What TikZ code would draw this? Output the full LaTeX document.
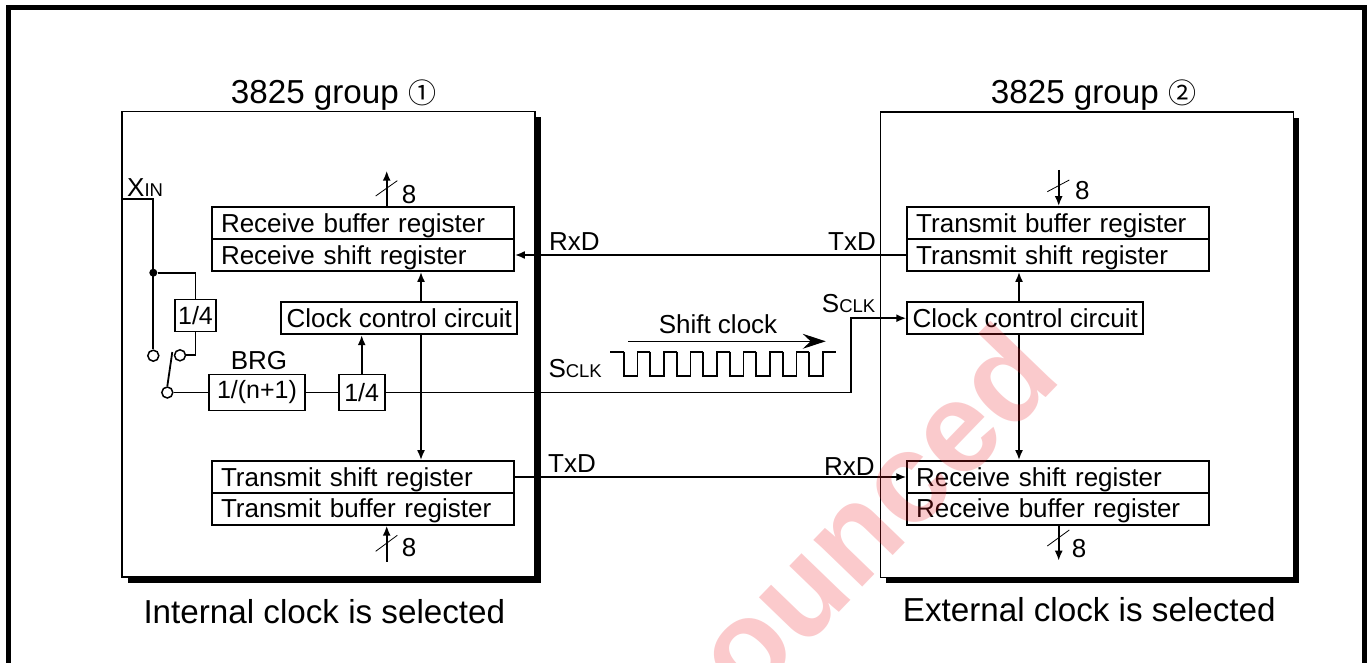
\documentclass[tikz,border=0pt]{standalone}
\definecolor{rougemark}{RGB}{237,28,36}
\usepackage{fontspec}
\setmainfont{Liberation Sans}
\newfontfamily\circlefont{Noto Sans CJK JP}
\usepackage{tikz}
\usetikzlibrary{arrows.meta,positioning,shadows}
\newcommand{\smalltext}{\fontsize{26}{30}\selectfont}
\newcommand{\bigtext}{\fontsize{33.2}{38}\selectfont}
\newcommand{\subtext}{\fontsize{18.5}{21}\selectfont}
\tikzset{
	>={Latex[length=10pt,width=8pt]},
	wire/.style={line width=1.8pt},
	slash/.style={line width=0.8pt},
	groupbox/.style={draw,line width=1.8pt,fill=white,minimum width=413pt,minimum height=465.5pt,inner sep=0pt,
		drop shadow={shadow xshift=5.5pt,shadow yshift=-5.5pt,opacity=1,fill=black}},
	regbox/.style={draw,line width=1.8pt,minimum width=302pt,minimum height=32pt,text width=284pt,inner xsep=9pt,inner ysep=0pt,
		text height=21pt,text depth=3pt,align=left,font=\smalltext},
	ctrlbox/.style={draw,line width=1.8pt,minimum width=236pt,minimum height=32pt,inner sep=0pt,font=\smalltext},
	divbox/.style={draw,line width=1.8pt,minimum height=36pt,inner sep=0pt,font=\fontsize{25}{29}\selectfont},
	pole/.style={circle,draw,line width=1.5pt,fill=white,minimum size=11pt,inner sep=0pt},
	tapdot/.style={circle,fill=black,minimum size=8pt,inner sep=0pt},
	lab/.style={anchor=base west,inner sep=0pt,font=\smalltext},
	caption/.style={anchor=base west,inner sep=0pt,font=\bigtext}
}

\begin{document}
\begin{tikzpicture}[x=1pt,y=-1pt]
	
	\clip (0,0) rectangle (1370,663);
	
	\draw[line width=5pt,line cap=rect] (8.5,680)--(8.5,7.5)--(1364.5,7.5)--(1364.5,680);
	
	\node[groupbox] (groupA) at (328.5,344.3) {};
	\node[groupbox] (groupB) at (1087,344.8) {};
	
	\node[caption] (titleA) at (230.7,104) {3825 group {\circlefont\fontsize{28}{32}\selectfont ①}};
	\node[caption] (titleB) at (990.7,104) {3825 group {\circlefont\fontsize{28}{32}\selectfont ②}};
	\node[caption] (capA) at (143.3,623.3) {Internal clock is selected};
	\node[caption] (capB) at (902.7,621.7) {External clock is selected};
	
	\node[regbox] (rxbufA) at (363,223.3) {Receive buffer register};
	\node[regbox] (rxshiftA) at (363,255) {Receive shift register};
	\node[regbox] (txshiftA) at (363,477) {Transmit shift register};
	\node[regbox] (txbufA) at (363,508.8) {Transmit buffer register};
	\node[ctrlbox] (ctrlA) at (399.3,318.2) {Clock control circuit};
	
	\node[regbox] (txbufB) at (1058.2,223) {Transmit buffer register};
	\node[regbox] (txshiftB) at (1058.2,255) {Transmit shift register};
	\node[regbox] (rxshiftB) at (1058.2,477) {Receive shift register};
	\node[regbox] (rxbufB) at (1058.2,508.7) {Receive buffer register};
	\node[ctrlbox] (ctrlB) at (1025.2,318.2) {Clock control circuit};
	
	\node[divbox,minimum width=41pt,minimum height=32pt] (divA) at (195.5,315.5) {1/4};
	\node[divbox,minimum width=95.5pt] (brg) at (257,392.5) {1/(n+1)};
	\node[divbox,minimum width=46pt] (divB) at (361.7,392.5) {1/4};
	
	\node[pole] (swA) at (153.3,355.7) {};
	\node[pole] (swB) at (180,355.3) {};
	\node[pole] (swC) at (167.3,392.5) {};
	\node[tapdot] (tap) at (153.3,272.7) {};
	\coordinate (xinstart) at (122,199.3);
	\coordinate (swtip) at (172.3,352);
	\coordinate (bend) at (851,350);
	\coordinate (busctrlA) at (421,318);
	\coordinate (busctrlB) at (1019,318);
	
	\draw[wire] (xinstart) -| (swA.north);
	\draw[wire] (tap) -| (divA.north);
	\draw[wire] (divA.south) |- (swB.east);
	\draw[wire] (swC.north) -- (swtip);
	\draw[wire] (swC.east) -- (brg.west);
	\draw[wire] (brg.east) -- (divB.west);
	\draw[wire,->] (divB.north) -- (divB.north |- ctrlA.south);
	\draw[wire,->] (divB.east) -- (divB.east -| bend) |- (ctrlB.west);
	\draw[wire,->] (txshiftB.west) -- (rxshiftA.east);
	\draw[wire,->] (txshiftA.east) -- (rxshiftB.west);
	\draw[wire,->] (busctrlA |- ctrlA.north) -- (busctrlA |- rxshiftA.south);
	\draw[wire,->] (busctrlA |- ctrlA.south) -- (busctrlA |- txshiftA.north);
	\draw[wire,->] (busctrlB |- ctrlB.north) -- (busctrlB |- txshiftB.south);
	\draw[wire,->] (busctrlB |- ctrlB.south) -- (busctrlB |- rxshiftB.north);
	
	\coordinate (busA) at (386.7,170.7);
	\coordinate (busB) at (386.7,561.7);
	\coordinate (busC) at (1058.7,170);
	\coordinate (busD) at (1058.7,560.7);
	
	\draw[wire,->] (busA |- rxbufA.north) -- (busA);
	\draw[wire,->] (busB) -- (busB |- txbufA.south);
	\draw[wire,->] (busC) -- (busC |- txbufB.north);
	\draw[wire,->] (busD |- rxbufB.south) -- (busD);
	
	\draw[slash] (375.7,196) -- (397.3,180.7);
	\draw[slash] (375.7,551.3) -- (397.3,535.3);
	\draw[slash] (1047.3,191.7) -- (1069.3,180);
	\draw[slash] (1047.3,546) -- (1069.3,530);
	
	\node[lab] (widthA) at (401.7,204) {8};
	\node[lab] (widthB) at (401.7,556.7) {8};
	\node[lab] (widthC) at (1075,200) {8};
	\node[lab] (widthD) at (1071.7,557.3) {8};
	
	\node[lab] (xin) at (127,196.7) {X{\subtext IN}};
	\node[lab,anchor=base] (brglab) at (259,369.3) {BRG};
	\node[lab] (rxdA) at (549,250.7) {RxD};
	\node[lab] (txdB) at (828,250.7) {TxD};
	\node[lab] (txdA) at (548,472.3) {TxD};
	\node[lab] (rxdB) at (824,475) {RxD};
	\node[lab] (sclkA) at (548.3,377.3) {S{\subtext CLK}};
	\node[lab] (sclkB) at (821.7,312.7) {S{\subtext CLK}};
	\node[lab,anchor=base] (shiftlab) at (718,333.3) {Shift clock};
	
	\coordinate (flowstart) at (628.3,341.3);
	\coordinate (flowend) at (825.7,341.3);
	\draw[line width=1.2pt,-{Stealth[length=23pt,width=15pt,inset=8pt]}] (flowstart) -- (flowend);
	
	\draw[wire] (610,351.7) -- (623.7,351.7);
	\foreach \i in {0,...,7}
	\draw[wire] (623.7+26.5*\i,351.7) -- ++(0,24.3) -- ++(13.7,0) -- ++(0,-24.3) -- ++(12.8,0);
	
	\node[text=rougemark,text opacity=0.23,rotate=46,font=\bfseries\fontsize{128}{144}\selectfont] (markword) at (873,511) {ounced};
	
\end{tikzpicture}
\end{document}
